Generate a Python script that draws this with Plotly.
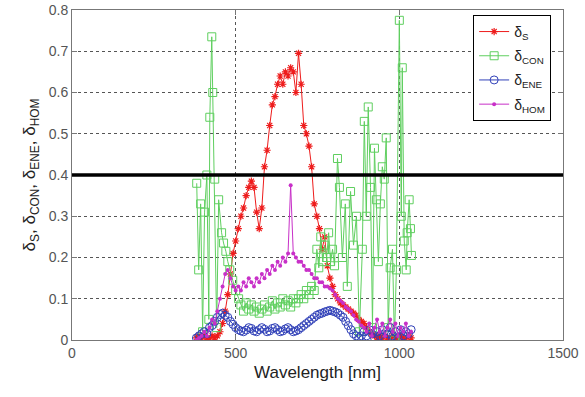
import plotly.graph_objects as go

# Common sampling grid (nm) for S, ENE, HOM series
wl = list(range(380, 1037, 8))

delta_s = [0.005, 0.01, 0.0, 0.01, 0.005, 0.0, 0.01, 0.005, 0.01, 0.02,
           0.04, 0.07, 0.11, 0.16, 0.21, 0.24, 0.27, 0.30, 0.32, 0.35,
           0.37, 0.385, 0.37, 0.31, 0.27, 0.32, 0.42, 0.46, 0.52, 0.57,
           0.59, 0.62, 0.64, 0.62, 0.65, 0.64, 0.66, 0.65, 0.60, 0.695,
           0.62, 0.52, 0.50, 0.47, 0.42, 0.33, 0.30, 0.27, 0.22, 0.25,
           0.18, 0.15, 0.13, 0.11, 0.10, 0.09, 0.085, 0.08, 0.075, 0.07,
           0.065, 0.06, 0.05, 0.045, 0.04, 0.03, 0.02, 0.015, 0.01, 0.005,
           0.01, 0.0, 0.01, 0.005, 0.0, 0.01, 0.005, 0.0, 0.01, 0.005,
           0.0, 0.01, 0.005]

con_wl = [381, 387, 393, 399, 405, 412, 418, 421, 427, 430,
          436, 442, 448, 457, 463, 470, 476, 482, 491, 500,
          509, 516, 524, 532, 540, 548, 556, 564, 572, 580,
          588, 596, 604, 612, 620, 628, 636, 644, 652, 660,
          668, 676, 684, 692, 700, 708, 716, 724, 732, 740,
          748, 754, 760, 766, 772, 778, 784, 790, 796, 802,
          811, 817, 826, 835, 841, 851, 860, 869, 878, 887,
          893, 899, 905, 912, 918, 924, 930, 936, 942, 948,
          954, 960, 966, 972, 979, 985, 991, 1000, 1006, 1009,
          1015, 1021, 1024, 1030, 1034, 1037]
delta_con = [0.38, 0.17, 0.33, 0.02, 0.31, 0.40, 0.05, 0.54, 0.735, 0.60,
             0.39, 0.03, 0.34, 0.26, 0.235, 0.215, 0.19, 0.17, 0.145, 0.12,
             0.10, 0.085, 0.07, 0.09, 0.075, 0.085, 0.07, 0.08, 0.065, 0.075,
             0.085, 0.07, 0.08, 0.095, 0.075, 0.09, 0.08, 0.10, 0.085, 0.095,
             0.08, 0.10, 0.09, 0.10, 0.11, 0.10, 0.12, 0.11, 0.13, 0.12,
             0.22, 0.175, 0.25, 0.19, 0.23, 0.20, 0.26, 0.19, 0.22, 0.18,
             0.44, 0.37, 0.20, 0.33, 0.13, 0.36, 0.23, 0.30, 0.02, 0.22,
             0.53, 0.30, 0.565, 0.37, 0.03, 0.465, 0.34, 0.19, 0.33, 0.42,
             0.39, 0.49, 0.03, 0.175, 0.22, 0.0, 0.17, 0.775, 0.30, 0.66,
             0.24, 0.17, 0.26, 0.34, 0.27, 0.205]

delta_ene = [0.005, 0.01, 0.015, 0.02, 0.015, 0.03, 0.035, 0.045, 0.055, 0.062,
             0.065, 0.06, 0.055, 0.045, 0.038, 0.03, 0.025, 0.022, 0.02, 0.024,
             0.03, 0.028, 0.022, 0.02, 0.025, 0.03, 0.026, 0.02, 0.022, 0.028,
             0.03, 0.025, 0.02, 0.022, 0.027, 0.03, 0.025, 0.02, 0.022, 0.025,
             0.03, 0.035, 0.04, 0.045, 0.05, 0.055, 0.06, 0.063, 0.065, 0.068,
             0.07, 0.072, 0.07, 0.068, 0.065, 0.06, 0.055, 0.045, 0.035, 0.025,
             0.015, 0.01, 0.005, 0.01, 0.02, 0.01, 0.025, 0.015, 0.005, 0.02,
             0.01, 0.025, 0.005, 0.015, 0.03, 0.01, 0.02, 0.005, 0.025, 0.01,
             0.02, 0.015, 0.025]

delta_hom = [0.0, 0.005, 0.01, 0.02, 0.01, 0.03, 0.05, 0.04, 0.07, 0.10,
             0.13, 0.16, 0.17, 0.15, 0.13, 0.12, 0.13, 0.12, 0.14, 0.13,
             0.15, 0.14, 0.13, 0.15, 0.14, 0.16, 0.15, 0.17, 0.16, 0.18,
             0.17, 0.19, 0.18, 0.20, 0.19, 0.21, 0.375, 0.21, 0.20, 0.19,
             0.19, 0.18, 0.17, 0.17, 0.16, 0.15, 0.15, 0.14, 0.14, 0.13,
             0.13, 0.125, 0.12, 0.11, 0.10, 0.095, 0.09, 0.08, 0.075, 0.07,
             0.06, 0.05, 0.045, 0.035, 0.03, 0.02, 0.04, 0.01, 0.03, 0.05,
             0.02, 0.04, 0.01, 0.03, 0.05, 0.02, 0.04, 0.01, 0.03, 0.02,
             0.04, 0.01, 0.02]

threshold = 0.4
x_ticks = [0, 500, 1000, 1500]
y_ticks = [0, 0.1, 0.2, 0.3, 0.4, 0.5, 0.6, 0.7, 0.8]

RED = "#ee1c1c"
GREEN = "#5fcf5f"
BLUE = "#3040b8"
MAG = "#c830c8"
FONT = "Liberation Sans, Arial, sans-serif"

fig = go.Figure()
fig.add_trace(go.Scatter(x=wl, y=delta_s, mode="lines+markers", name="δ<sub>S</sub>",
                         legendgroup="s",
                         line=dict(color=RED, width=1),
                         marker=dict(symbol="asterisk-open", size=6, color=RED,
                                     line=dict(color=RED, width=1.2))))
fig.add_trace(go.Scatter(x=con_wl, y=delta_con, mode="lines+markers", name="δ<sub>CON</sub>",
                         legendgroup="con",
                         line=dict(color=GREEN, width=1),
                         marker=dict(symbol="square-open", size=8, color=GREEN,
                                     line=dict(color=GREEN, width=1))))
fig.add_trace(go.Scatter(x=wl, y=delta_ene, mode="lines+markers", name="δ<sub>ENE</sub>",
                         legendgroup="ene",
                         line=dict(color=BLUE, width=1),
                         marker=dict(symbol="circle-open", size=8, color=BLUE,
                                     line=dict(color=BLUE, width=1))))
fig.add_trace(go.Scatter(x=wl, y=delta_hom, mode="lines+markers", name="δ<sub>HOM</sub>",
                         legendgroup="hom",
                         line=dict(color=MAG, width=1),
                         marker=dict(symbol="circle", size=4, color=MAG)))

fig.add_hline(y=threshold, line=dict(color="black", width=3.5), layer="above")

axis_common = dict(
    showline=True, linecolor="#777", linewidth=1, mirror="ticks",
    ticks="inside", ticklen=5, tickcolor="#777",
    showgrid=True, gridcolor="#555", griddash="dot", gridwidth=1,
    zeroline=False, automargin=False,
    tickfont=dict(family=FONT, size=14, color="#555"),
)

fig.update_xaxes(range=[0, 1500], tickvals=x_ticks, ticktext=[str(v) for v in x_ticks],
                 title=dict(text="Wavelength [nm]", standoff=6,
                            font=dict(family=FONT, size=17, color="#222")),
                 **axis_common)
fig.update_yaxes(range=[0, 0.8], tickvals=y_ticks,
                 ticktext=["0" if v == 0 else f"{v:.1f}" for v in y_ticks],
                 title=dict(text="δ<sub>S</sub>, δ<sub>CON</sub>, δ<sub>ENE</sub>, δ<sub>HOM</sub>",
                            standoff=8,
                            font=dict(family=FONT, size=17, color="#222")),
                 **axis_common)

fig.update_layout(
    width=585, height=397,
    margin=dict(l=72, r=22, t=10, b=57),
    paper_bgcolor="white", plot_bgcolor="white",
    showlegend=True,
    legend=dict(x=0.817, y=0.985, xanchor="left", yanchor="top",
                bgcolor="white", bordercolor="black", borderwidth=1,
                font=dict(family=FONT, size=14, color="#222"),
                tracegroupgap=3),
)

fig.write_html("out.html")
